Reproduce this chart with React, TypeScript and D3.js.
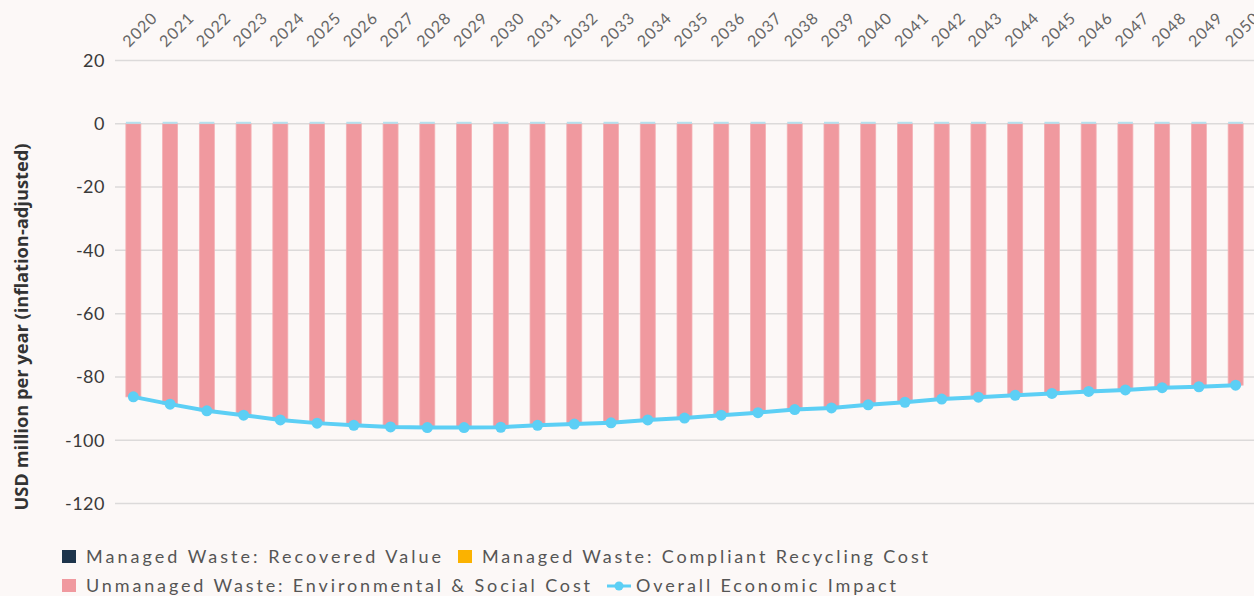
import React from "react";
import * as d3 from "d3";

const years = d3.range(2020, 2051).map(String);
const overallImpact = [
  -86.3, -88.6, -90.7, -92.1, -93.6, -94.6, -95.3, -95.8, -96.0, -96.0, -95.9,
  -95.3, -94.9, -94.5, -93.6, -93.0, -92.1, -91.3, -90.3, -89.8, -88.8, -88.0,
  -87.0, -86.4, -85.8, -85.2, -84.6, -84.1, -83.4, -83.1, -82.6,
];
const unmanagedCost = overallImpact.map((v) => v);
const managedRecovered = years.map(() => 0);
const managedCompliant = years.map(() => 0);
const yTicks = [20, 0, -20, -40, -60, -80, -100, -120];

const legendItems = [
  { label: "Managed Waste: Recovered Value", color: "#1d344b", type: "rect" },
  { label: "Managed Waste: Compliant Recycling Cost", color: "#fbb200", type: "rect" },
  { label: "Unmanaged Waste: Environmental & Social Cost", color: "#f0999f", type: "rect" },
  { label: "Overall Economic Impact", color: "#5ccff5", type: "line" },
];

const W = 1254;
const H = 596;
const FONT = "Lato, 'Open Sans', sans-serif";

export default function App() {
  const x = d3.scaleBand().domain(years).range([115, 1254]).paddingInner(0.592).paddingOuter(0.296);
  const y = d3.scaleLinear().domain([20, -120]).range([60.5, 503.5]);
  const cx = (yr: string) => (x(yr) as number) + x.bandwidth() / 2;
  const line = d3
    .line<number>()
    .x((_, i) => cx(years[i]))
    .y((d) => y(d));

  const legendPos = [
    { x: 62, y: 557, tx: 86, len: 355 },
    { x: 458, y: 557, tx: 482, len: 446 },
    { x: 62, y: 586, tx: 86, len: 504 },
    { x: 607, y: 586, tx: 636, len: 260 },
  ];

  return (
    <svg
      width={W}
      height={H}
      style={{ position: "absolute", left: 0, top: 0, background: "#fcf8f7" }}
      fontFamily={FONT}
    >
      <rect x={0} y={0} width={W} height={H} fill="#fcf8f7" />
      {yTicks.map((t) => (
        <g key={t}>
          <line x1={115} x2={1254} y1={y(t)} y2={y(t)} stroke="#dcdada" strokeWidth={1.5} />
          <text
            x={105}
            y={y(t)}
            dy="0.35em"
            textAnchor="end"
            fontSize={18}
            fill="#3a3a3a"
            letterSpacing={0.5}
          >
            {t}
          </text>
        </g>
      ))}
      {years.map((yr) => (
        <text
          key={yr}
          transform={`translate(${cx(yr) - 4},48) rotate(-45)`}
          fontSize={16}
          fill="#666"
          letterSpacing={1}
        >
          {yr}
        </text>
      ))}
      {years.map((yr, i) => (
        <g key={yr}>
          <rect
            x={x(yr)}
            y={y(0)}
            width={x.bandwidth()}
            height={y(unmanagedCost[i]) - y(0)}
            fill="#f0999f"
            stroke="#f4b0b4"
            strokeWidth={0.8}
          />
          <rect
            x={x(yr)}
            y={y(0) - 2}
            width={x.bandwidth()}
            height={2}
            fill="#b5e0ee"
          />
          {managedRecovered[i] > 0 && (
            <rect x={x(yr)} y={y(managedRecovered[i])} width={x.bandwidth()} height={y(0) - y(managedRecovered[i])} fill="#1d344b" />
          )}
          {managedCompliant[i] < 0 && (
            <rect x={x(yr)} y={y(0)} width={x.bandwidth()} height={y(managedCompliant[i]) - y(0)} fill="#fbb200" />
          )}
        </g>
      ))}
      <path d={line(overallImpact) || ""} fill="none" stroke="#5ccff5" strokeWidth={4} />
      {overallImpact.map((v, i) => (
        <circle key={i} cx={cx(years[i])} cy={y(v)} r={5.5} fill="#5ccff5" />
      ))}
      <text
        transform={`translate(28,327) rotate(-90)`}
        textAnchor="middle"
        fontSize={17}
        fontWeight="bold"
        fill="#333"
        fontFamily="'Open Sans', sans-serif"
        textLength={367}
        lengthAdjust="spacingAndGlyphs"
      >
        USD million per year (inflation-adjusted)
      </text>
      {legendItems.map((item, i) => {
        const p = legendPos[i];
        return (
          <g key={item.label}>
            {item.type === "rect" ? (
              <rect x={p.x} y={p.y - 7} width={14} height={13} fill={item.color} />
            ) : (
              <g>
                <line x1={p.x} x2={p.x + 24} y1={p.y} y2={p.y} stroke={item.color} strokeWidth={3} />
                <circle cx={p.x + 12} cy={p.y} r={4.5} fill={item.color} />
              </g>
            )}
            <text
              x={p.tx}
              y={p.y}
              dy="0.35em"
              fontSize={18}
              fill="#555"
              textLength={p.len}
              lengthAdjust="spacing"
            >
              {item.label}
            </text>
          </g>
        );
      })}
    </svg>
  );
}
